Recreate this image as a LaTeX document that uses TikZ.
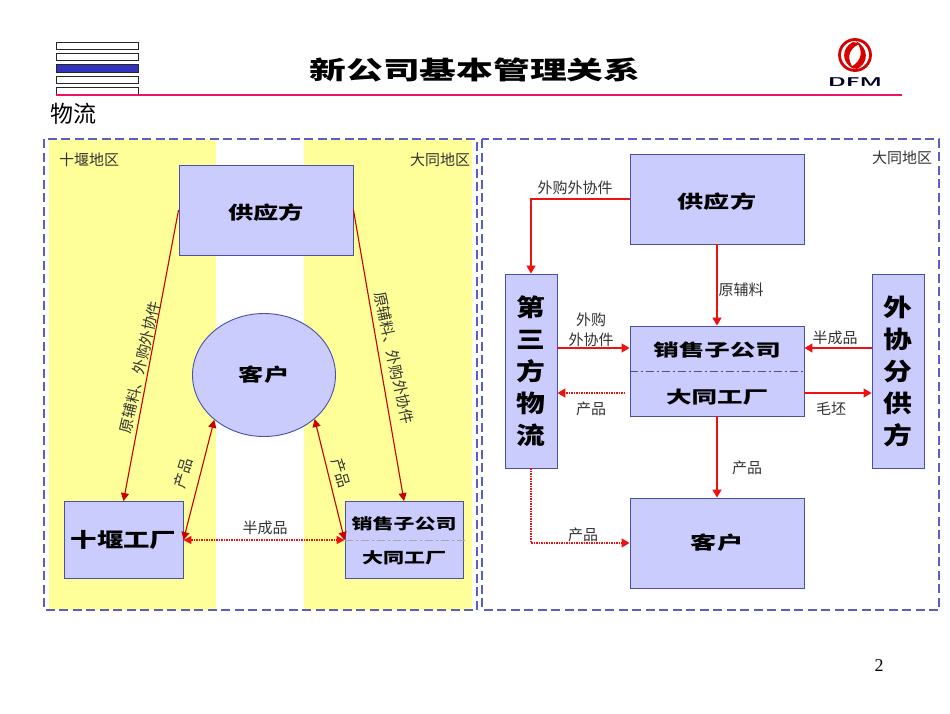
\documentclass[tikz,border=0pt]{standalone}
\usepackage{fontspec}
\usepackage{xcolor}
\setmainfont{Liberation Serif}
\newfontfamily\cjk{Noto Sans CJK SC}
\usetikzlibrary{calc, arrows.meta, shapes.geometric}
\definecolor{boxfill}{HTML}{C9CCFD}
\definecolor{boxline}{HTML}{4A4FA8}
\definecolor{areafill}{HTML}{FFFF99}
\definecolor{framecol}{HTML}{5A5FC0}
\definecolor{arrowred}{HTML}{EE1111}
\definecolor{darkred}{HTML}{C80000}
\definecolor{titleline}{HTML}{EE1166}
\definecolor{barblue}{HTML}{3333BB}
\newcommand{\wide}[2][1.4]{\scalebox{#1}[1]{#2}}
\newcommand{\lowered}[1]{\raisebox{-2.5pt}[\height][\depth]{#1}}
\tikzset{
	block/.style={draw=boxline, fill=boxfill, line width=0.9pt, inner sep=0pt, align=center, font=\cjk\bfseries},
	note/.style={font=\cjk\fontsize{15}{20}\selectfont, text=black!80, inner sep=0pt, align=center},
	frame/.style={draw=framecol, line width=1.2pt, dash pattern=on 9pt off 4.5pt},
	bar/.style={draw=black!85, fill=white, line width=1pt},
	flow/.style={draw=arrowred, line width=1.5pt, -{Triangle[length=8pt,width=9pt]}},
	dotflow/.style={flow, dash pattern=on 1.5pt off 1pt},
	thinflow/.style={draw=darkred, line width=1.1pt, -{Triangle[length=8pt,width=8pt]}},
	bothflow/.style={thinflow, {Triangle[length=8pt,width=8pt]}-{Triangle[length=8pt,width=8pt]}},
	splitline/.style={draw=boxline, line width=0.9pt, dash pattern=on 8pt off 3pt on 2pt off 3pt},
}
\begin{document}
\begin{tikzpicture}[x=1pt, y=-1pt]
	\useasboundingbox (0,0) rectangle (950,713);
	\fill [white] (0,0) rectangle (950,713);

	\begin{scope}
		\draw [bar] (56,42) rectangle (138,49);
		\draw [bar] (56,53) rectangle (138,60);
		\draw [bar, fill=barblue] (56,64) rectangle (138,72);
		\draw [bar] (56,76) rectangle (138,83);
		\draw [bar] (56,87) rectangle (138,94);
		\draw [titleline, line width=2.4pt] (56,95) -- (902,95);
		\node (title) at (475,70) {\cjk\bfseries\fontsize{25}{30}\selectfont\wide[1.47]{新公司基本管理关系}};
		\node (sub) at (73,114) {\cjk\fontsize{23}{26}\selectfont 物流};
		\node (page) at (879,666) {\fontsize{18}{20}\selectfont 2};
	\end{scope}

	\begin{scope}[red!85!black]
		\draw [line width=2.8pt] (855,55) circle (15.5);
		\fill (853,42) .. controls (841,48) and (841,63) .. (854,69) .. controls (847,60) and (847,50) .. (859,44) .. controls (857,43) and (855,42) .. (853,42);
		\fill (857,69) .. controls (869,63) and (869,48) .. (856,41) .. controls (863,50) and (863,60) .. (851,67) .. controls (853,68) and (855,69) .. (857,69);
		\node (logo) at (855,82) {\sffamily\bfseries\color{black!85!blue}\fontsize{15}{16}\selectfont\scalebox{1.5}[0.85]{DFM}};
	\end{scope}

	\begin{scope}
		\fill [areafill] (49,139) rectangle (216,610);
		\fill [areafill] (304,139) rectangle (472,610);
		\draw [frame] (44,139) rectangle (477,610);
		\draw [frame] (482,139) rectangle (939,610);
		\node [note] (areaA) at (89,160) {十堰地区};
		\node [note] (areaB) at (440,160) {大同地区};
		\node [note] (areaC) at (902,158) {大同地区};
	\end{scope}

	\begin{scope}
		\node [block, minimum width=174pt, minimum height=90pt, font=\cjk\bfseries\fontsize{18}{22}\selectfont] (supplyA) at (266,210) {\lowered{\wide{供应方}}};
		\node [block, ellipse, minimum width=143pt, minimum height=123pt, font=\cjk\bfseries\fontsize{18}{22}\selectfont] (clientA) at (264,375) {\wide{客户}};
		\node [block, minimum width=119pt, minimum height=77pt, font=\cjk\bfseries\fontsize{20}{26}\selectfont] (shiyan) at (123.5,540) {\wide[1.32]{十堰工厂}};
		\node [block, minimum width=118pt, minimum height=77pt] (datongA) at (404,540) {};
		\node [font=\cjk\bfseries\fontsize{15}{18}\selectfont] (saleA) at (404,524) {\wide[1.4]{销售子公司}};
		\node [font=\cjk\bfseries\fontsize{15}{18}\selectfont] (workA) at (404,558) {\wide[1.4]{大同工厂}};
		\draw [draw=black!35, line width=0.6pt, dash pattern=on 8pt off 3pt on 2pt off 3pt] (datongA.west) -- ++(123,0);

		\draw [thinflow] (supplyA.west) -- (shiyan.north);
		\draw [thinflow] (supplyA.east) -- (datongA.north);
		\draw [bothflow] (shiyan.east) -- (clientA.222);
		\draw [bothflow] (datongA.west) -- (clientA.-41);
		\draw [bothflow, draw=arrowred, line width=1.5pt, dash pattern=on 1.5pt off 1pt] (shiyan.east) -- (datongA.west);

		\node [note, rotate=77] (noteA) at (140,367) {原辅料、外购外协件};
		\node [note, rotate=-78] (noteB) at (394,358) {原辅料、外购外协件};
		\node [note, rotate=73] (noteC) at (183,473) {产品};
		\node [note, rotate=-73] (noteD) at (341,473) {产品};
		\node [note] (noteE) at (265,528) {半成品};
	\end{scope}

	\begin{scope}
		\node [block, minimum width=174pt, minimum height=90pt, font=\cjk\bfseries\fontsize{18}{22}\selectfont] (supplyB) at (717,199) {\lowered{\wide[1.45]{供应方}}};
		\node [block, minimum width=52pt, minimum height=194pt, font=\cjk\bfseries\fontsize{24}{32}\selectfont] (third) at (531,371) {\wide[1.2]{第}\\\wide[1.2]{三}\\\wide[1.2]{方}\\\wide[1.2]{物}\\\wide[1.2]{流}};
		\node [block, minimum width=52pt, minimum height=194pt, font=\cjk\bfseries\fontsize{24}{32}\selectfont] (outer) at (898,371) {\wide[1.2]{外}\\\wide[1.2]{协}\\\wide[1.2]{分}\\\wide[1.2]{供}\\\wide[1.2]{方}};
		\node [block, minimum width=174pt, minimum height=90pt] (datongB) at (717,371) {};
		\node [font=\cjk\bfseries\fontsize{17}{20}\selectfont] (saleB) at (717,350) {\wide[1.5]{销售子公司}};
		\node [font=\cjk\bfseries\fontsize{17}{20}\selectfont] (workB) at (717,397) {\wide[1.5]{大同工厂}};
		\draw [splitline] (datongB.west) -- (datongB.east);
		\node [block, minimum width=174pt, minimum height=90pt, font=\cjk\bfseries\fontsize{18}{22}\selectfont] (clientB) at (717,543) {\wide[1.45]{客户}};

		\coordinate (inA) at (datongB.west |- 0,348);
		\coordinate (inB) at (datongB.east |- 0,348);
		\coordinate (outA) at (625,393);
		\coordinate (outB) at (datongB.east |- 0,393);

		\draw [flow] (supplyB.west) -| (third.north);
		\draw [flow] (supplyB.south) -- (datongB.north);
		\draw [flow] (third.east |- inA) -- (inA);
		\draw [flow] (outer.west |- inB) -- (inB);
		\draw [flow] (outB) -- (outer.west |- outB);
		\draw [dotflow] (outA) -- (third.east |- outA);
		\draw [flow] (datongB.south) -- (clientB.north);
		\draw [dotflow] (third.south) |- (clientB.west);

		\node [note] (noteF) at (575,188) {外购外协件};
		\node [note] (noteG) at (741,290) {原辅料};
		\node [note] (noteH) at (591,330) {外购\\外协件};
		\node [note] (noteI) at (835,338) {半成品};
		\node [note] (noteJ) at (591,409) {产品};
		\node [note] (noteK) at (831,409) {毛坯};
		\node [note] (noteL) at (747,468) {产品};
		\node [note] (noteM) at (583,535) {产品};
	\end{scope}
\end{tikzpicture}
\end{document}
